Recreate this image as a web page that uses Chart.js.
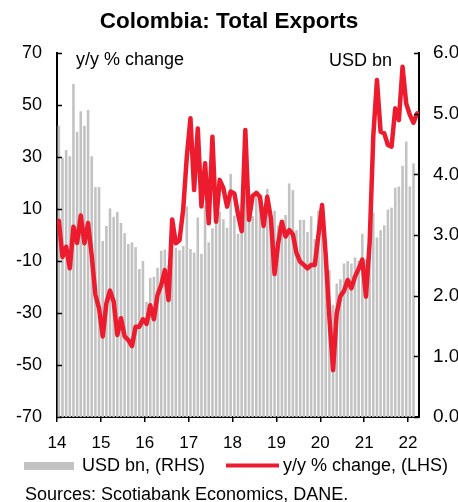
<!DOCTYPE html>
<html>
<head>
<meta charset="utf-8">
<script src="https://cdn.jsdelivr.net/npm/chart.js@4.4.1/dist/chart.umd.min.js"></script>
<style>
  html, body { margin: 0; padding: 0; background: #fff; }
  canvas { display: block; }
</style>
</head>
<body>
<canvas id="myChart" width="458" height="502"></canvas>
<script>
//************* DATA (monthly, Jan 2014 - Mar 2022) ************* */
const yearLabels = ["14", "15", "16", "17", "18", "19", "20", "21", "22"];

// USD bn, right axis
const usdBn = [
  4.80, 4.27, 4.40, 4.30, 5.49, 4.70, 5.04, 4.80, 5.06, 4.30, 3.79, 3.79,
  2.90, 3.15, 3.44, 3.30, 3.38, 3.20, 3.03, 2.85, 2.88, 2.80, 2.44, 2.57,
  1.90, 2.29, 2.31, 2.46, 2.74, 2.76, 2.51, 2.92, 2.79, 2.75, 2.82, 3.47,
  2.77, 2.71, 3.29, 2.69, 3.49, 2.88, 3.11, 3.21, 3.38, 3.26, 3.12, 4.01,
  3.32, 3.02, 3.25, 3.71, 3.64, 3.31, 3.63, 3.66, 3.41, 3.76, 3.32, 3.40,
  3.16, 3.18, 3.33, 3.85, 3.74, 3.08, 3.25, 3.25, 3.05, 3.31, 2.93, 3.40,
  3.49, 2.92, 2.42, 1.85, 2.20, 2.27, 2.53, 2.57, 2.53, 2.63, 2.58, 3.02,
  2.60, 2.80, 3.37, 2.96, 3.08, 3.16, 3.42, 3.45, 3.78, 3.80, 4.14, 4.54,
  3.80, 4.18, null
];

// y/y % change, left axis
const yoyPct = [
  5.5, -8.5, -4.5, -12.8, 3.2, -3.1, 7.5, -3.2, 4.6, -8.0, -23.0, -28.2,
  -39.0, -26.3, -21.4, -25.6, -38.5, -32.0, -39.0, -40.4, -42.7, -35.3, -35.3, -32.4,
  -34.2, -27.0, -32.4, -23.0, -19.2, -13.5, -25.0, 6.0, -3.2, -2.0, 9.6, 30.1,
  44.9, 17.3, 41.0, 11.0, 27.6, 4.5, 37.8, 5.1, 21.2, 18.0, 10.9, 16.7,
  16.0, 8.0, 1.5, 40.4, 5.8, 15.0, 16.2, 14.7, 3.5, 14.7, 6.4, -15.0,
  -3.0, 5.1, -0.6, 1.9, 0.3, -7.0, -10.3, -11.5, -12.8, -11.5, -11.5, 0.0,
  11.5, -8.0, -32.0, -52.0, -30.1, -23.5, -21.5, -17.3, -20.5, -16.0, -13.0, -9.5,
  -23.7, -3.0, 38.0, 59.6, 39.7, 39.1, 34.6, 34.0, 48.7, 44.2, 64.7, 50.6,
  46.2, 43.2, 46.8
];

const leftTicks = [-70, -50, -30, -10, 10, 30, 50, 70];
const rightTicks = [0, 1, 2, 3, 4, 5, 6];
//*************************************************************** */

const FONT = "'Liberation Sans', Arial, Helvetica, sans-serif";
const RED = "rgb(236, 28, 46)";
const GREY = "rgb(194, 194, 194)";

// month i sits in the middle of its slot on the x scale
const barPoints = usdBn.map((v, i) => ({ x: i + 0.5, y: v }));
const linePoints = yoyPct.map((v, i) => ({ x: i + 0.5, y: v }));

// small inward ticks on both value axes + the in-chart notes, legend, source
const extras = {
  id: "extras",
  afterDraw(chart) {
    const ctx = chart.ctx;
    const area = chart.chartArea;
    ctx.save();
    ctx.strokeStyle = "#000";
    ctx.lineWidth = 1.5;
    ["y", "y1"].forEach((id) => {
      const sc = chart.scales[id];
      sc.ticks.forEach((t) => {
        const py = Math.round(sc.getPixelForValue(t.value)) + 0.5;
        ctx.beginPath();
        if (id === "y") {
          ctx.moveTo(area.left, py);
          ctx.lineTo(area.left + 5, py);
        } else {
          ctx.moveTo(area.right - 5, py);
          ctx.lineTo(area.right, py);
        }
        ctx.stroke();
      });
    });

    ctx.fillStyle = "#000";
    ctx.font = "18px " + FONT;
    ctx.textBaseline = "alphabetic";
    ctx.textAlign = "left";
    ctx.fillText("y/y % change", area.left + 19, area.top + 12);
    ctx.fillText("USD bn", area.right - 90, area.top + 13);

    // legend
    ctx.font = "18px " + FONT;
    ctx.textBaseline = "middle";
    ctx.fillStyle = GREY;
    ctx.fillRect(24, 462, 50, 8);
    ctx.fillStyle = "#000";
    ctx.fillText("USD bn, (RHS)", 82, 466);
    ctx.strokeStyle = RED;
    ctx.lineWidth = 4;
    ctx.beginPath();
    ctx.moveTo(226, 465.5);
    ctx.lineTo(279, 465.5);
    ctx.stroke();
    ctx.fillText("y/y % change, (LHS)", 283, 466);

    ctx.textBaseline = "alphabetic";
    ctx.fillText("Sources: Scotiabank Economics, DANE.", 25, 500);
    ctx.restore();
  },
};

const data = {
  datasets: [
    {
      type: "line",
      label: "y/y % change, (LHS)",
      data: linePoints,
      yAxisID: "y",
      borderColor: RED,
      backgroundColor: RED,
      borderWidth: 4.5,
      borderJoinStyle: "round",
      borderCapStyle: "round",
      pointRadius: 0,
      tension: 0,
      order: 0,
    },
    {
      type: "bar",
      label: "USD bn, (RHS)",
      data: barPoints,
      yAxisID: "y1",
      backgroundColor: GREY,
      barPercentage: 0.9,
      categoryPercentage: 0.78,
      order: 1,
    },
  ],
};

const config = {
  type: "bar",
  data: data,
  options: {
    responsive: false,
    animation: false,
    devicePixelRatio: 1,
    layout: { padding: 0 },
    scales: {
      x: {
        type: "linear",
        position: "bottom",
        min: 0,
        max: usdBn.length,
        offset: false,
        afterBuildTicks: (sc) => {
          sc.ticks = yearLabels.map((_, k) => ({ value: k * 12 }));
        },
        afterFit: (sc) => {
          sc.height = 85;
        },
        ticks: {
          autoSkip: false,
          maxRotation: 0,
          padding: 11,
          color: "#000",
          font: { family: FONT, size: 17 },
          callback: (v, idx) => yearLabels[idx],
        },
        grid: {
          offset: false,
          drawOnChartArea: false,
          drawTicks: true,
          tickLength: 5,
          color: "#000",
          lineWidth: 1.5,
        },
        border: { display: true, color: "#000", width: 2 },
      },
      y: {
        type: "linear",
        position: "left",
        min: -70,
        max: 70,
        afterBuildTicks: (sc) => {
          sc.ticks = leftTicks.map((v) => ({ value: v }));
        },
        afterFit: (sc) => {
          sc.width = 57;
        },
        ticks: {
          padding: 15,
          color: "#000",
          font: { family: FONT, size: 18 },
        },
        grid: { display: false, drawTicks: false },
        border: { display: true, color: "#000", width: 2 },
      },
      y1: {
        type: "linear",
        position: "right",
        min: 0,
        max: 6,
        afterBuildTicks: (sc) => {
          sc.ticks = rightTicks.map((v) => ({ value: v }));
        },
        afterFit: (sc) => {
          sc.width = 39;
        },
        ticks: {
          padding: 14,
          color: "#000",
          font: { family: FONT, size: 19 },
          callback: (v) => v.toFixed(1),
        },
        grid: { display: false, drawTicks: false },
        border: { display: true, color: "#000", width: 2 },
      },
    },
    plugins: {
      legend: { display: false },
      tooltip: { enabled: false },
      title: {
        display: true,
        text: "Colombia: Total Exports",
        color: "#000",
        font: { family: FONT, size: 22.5, weight: "bold" },
        padding: { top: 8, bottom: 18 },
      },
    },
  },
  plugins: [extras],
};

const myChart = new Chart(document.getElementById("myChart"), config);
</script>
</body>
</html>
